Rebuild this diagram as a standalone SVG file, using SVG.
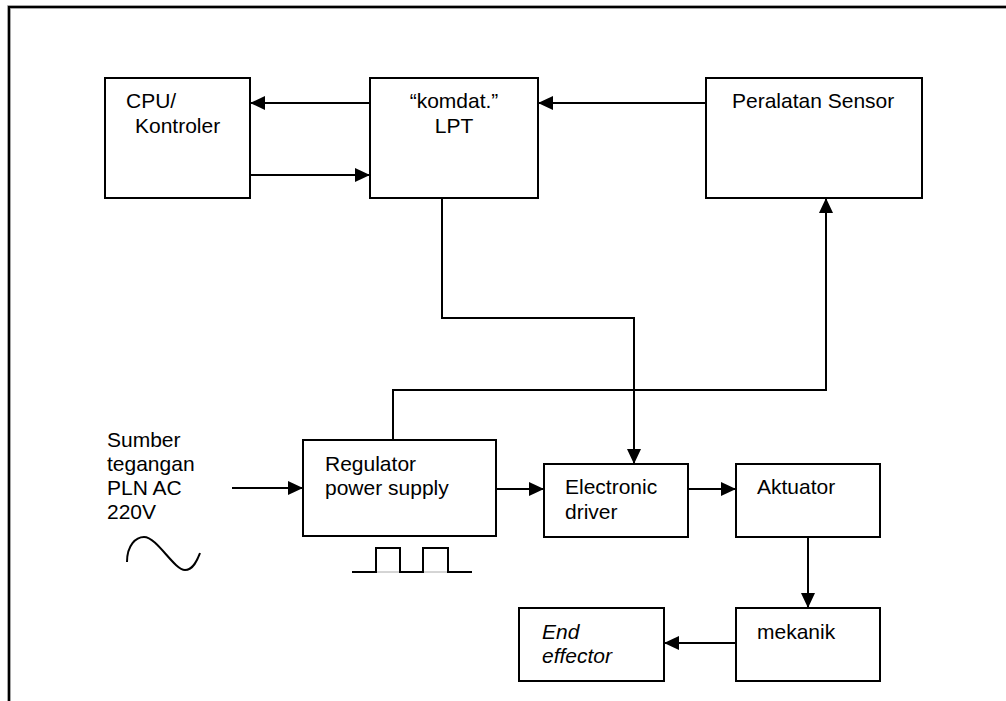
<svg xmlns="http://www.w3.org/2000/svg" width="1006" height="701" viewBox="0 0 1006 701">
<defs>
<marker id="ah" viewBox="0 0 15 14" refX="15" refY="7" markerWidth="15" markerHeight="14" markerUnits="userSpaceOnUse" orient="auto">
<path d="M0,0 L15,7 L0,14 Z" fill="#000"/>
</marker>
<style>
.box{fill:#fff;stroke:#000;stroke-width:2}
.t{font-family:"Liberation Sans",Arial,sans-serif;font-size:21px;fill:#000}
.c{fill:none;stroke:#000;stroke-width:2}
.a{marker-end:url(#ah)}
</style>
</defs>
<rect width="1006" height="701" fill="#fff"/>
<path d="M9,701 V7 H1006" fill="none" stroke="#888" stroke-width="3.5"/>
<path d="M9,701 V7 H1006" fill="none" stroke="#000" stroke-width="2"/>

<g id="connectors">
<path class="c a" d="M370,103 H250"/>
<path class="c a" d="M250,175 H370"/>
<path class="c a" d="M705,103 H538"/>
<path class="c a" d="M442,198 V318 H634 V464"/>
<path class="c a" d="M393,440 V390 H826 V198"/>
<path class="c a" d="M232,488 H303"/>
<path class="c a" d="M496,489 H544"/>
<path class="c a" d="M688,489 H736"/>
<path class="c a" d="M808,537 V608"/>
<path class="c a" d="M736,643 H664"/>
</g>

<g id="cpu">
<rect class="box" x="105" y="78" width="145" height="120"/>
<text class="t" x="126" y="108">CPU/</text>
<text class="t" x="135" y="133">Kontroler</text>
</g>
<g id="lpt">
<rect class="box" x="370" y="78" width="168" height="120"/>
<text class="t" x="454" y="108" text-anchor="middle">“komdat.”</text>
<text class="t" x="454" y="133" text-anchor="middle">LPT</text>
</g>
<g id="sensor">
<rect class="box" x="706" y="78" width="216" height="120"/>
<text class="t" x="732" y="108">Peralatan Sensor</text>
</g>
<g id="sumber">
<text class="t" x="107" y="447">Sumber</text>
<text class="t" x="107" y="471">tegangan</text>
<text class="t" x="107" y="495">PLN AC</text>
<text class="t" x="107" y="519">220V</text>
<path d="M127,562 C127,545 136,537 144,537 C157,537 174,570 185,570 C194,570 198,558 200,553" fill="none" stroke="#000" stroke-width="2"/>
</g>
<g id="regulator">
<rect class="box" x="303" y="440" width="193" height="96"/>
<text class="t" x="325" y="471">Regulator</text>
<text class="t" x="325" y="495">power supply</text>
<path d="M376,572 H448" fill="none" stroke="#aaa" stroke-width="1"/>
<path d="M352,572 H376 V548 H400 V572 H423 V548 H448 V572 H472" fill="none" stroke="#000" stroke-width="2"/>
</g>
<g id="driver">
<rect class="box" x="544" y="464" width="144" height="73"/>
<text class="t" x="565" y="494">Electronic</text>
<text class="t" x="565" y="519">driver</text>
</g>
<g id="aktuator">
<rect class="box" x="736" y="464" width="144" height="73"/>
<text class="t" x="757" y="494">Aktuator</text>
</g>
<g id="mekanik">
<rect class="box" x="736" y="608" width="144" height="73"/>
<text class="t" x="757" y="639">mekanik</text>
</g>
<g id="endeffector">
<rect class="box" x="519" y="608" width="145" height="73"/>
<text class="t" x="542" y="639" font-style="italic">End</text>
<text class="t" x="542" y="663" font-style="italic">effector</text>
</g>
</svg>
